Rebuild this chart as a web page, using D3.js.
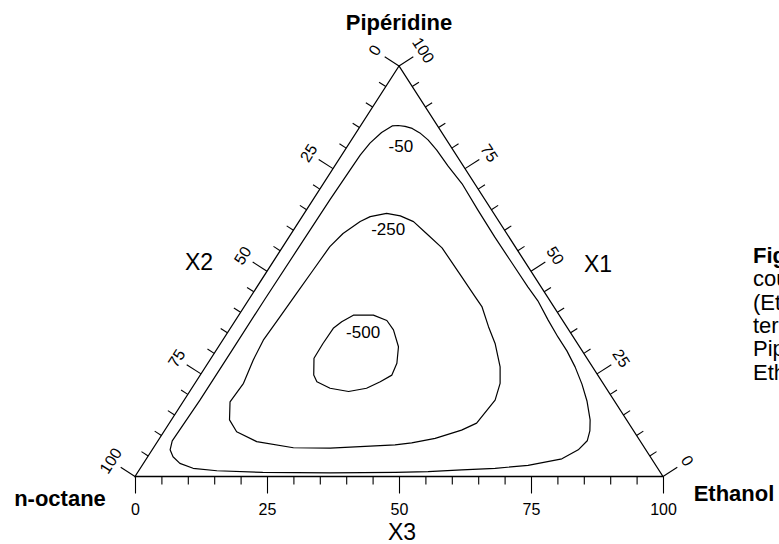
<!DOCTYPE html>
<html><head><meta charset="utf-8">
<script src="https://cdn.jsdelivr.net/npm/d3@7"></script>
<style>
html,body{margin:0;padding:0;background:#fff;overflow:hidden}
svg{display:block;font-family:Arial,"Liberation Sans",Helvetica,sans-serif}
</style></head><body>
<svg id="chart" width="779" height="544"></svg>
<script>
// Ternary axes: X1 = Pipéridine (top), X2 = n-octane (bottom left), X3 = Ethanol (bottom right), in %
const tickValues = d3.range(0, 101, 5);
const labelValues = [0, 25, 50, 75, 100];
const vertexNames = ["Pipéridine", "n-octane", "Ethanol"];
const axisNames = ["X1", "X2", "X3"];

// Iso-lines, each point as [X1, X2, X3]
const contourLevels = [-50, -250, -500];
const contour50 = [
  [85.5, 7.4, 7.1], [85.3, 6.2, 8.5], [84.8, 5.1, 10.1], [83.7, 4.2, 12.1], [82.0, 3.5, 14.5],
  [79.5, 3.1, 17.4], [75.6, 2.9, 21.5], [71.3, 2.4, 26.3], [64.9, 2.6, 32.5], [58.3, 2.7, 39.0],
  [52.0, 2.6, 45.4], [46.2, 2.5, 51.3], [42.8, 2.3, 54.9], [38.1, 2.7, 59.2], [34.0, 2.9, 63.1],
  [30.6, 2.9, 66.5], [26.7, 3.3, 70.0], [22.5, 4.1, 73.4], [18.4, 5.2, 76.4], [13.8, 6.9, 79.3],
  [11.1, 8.3, 80.6], [8.7, 10.0, 81.3], [6.5, 12.8, 80.7], [4.3, 17.0, 78.7], [2.7, 24.2, 73.1],
  [2.0, 30.8, 67.2], [1.6, 37.3, 61.1], [1.2, 43.9, 54.9], [1.0, 50.2, 48.8], [0.9, 62.6, 36.5],
  [1.0, 75.3, 23.7], [1.4, 83.8, 14.8], [2.0, 88.0, 10.0], [3.2, 89.9, 6.9], [4.8, 90.4, 4.8],
  [6.5, 90.1, 3.4], [8.7, 88.6, 2.7], [18.6, 78.4, 3.0], [30.8, 66.2, 3.0], [43.0, 54.0, 3.0],
  [55.2, 41.7, 3.1], [67.4, 29.4, 3.2], [74.7, 21.9, 3.4], [78.3, 18.2, 3.5], [81.2, 14.9, 3.9],
  [83.8, 11.4, 4.8], [85.4, 8.6, 6.0]
];
const contour250 = [
  [64.1, 20.3, 15.6], [63.5, 18.0, 18.5], [62.1, 16.2, 21.7], [59.2, 15.2, 25.6], [55.7, 14.0, 30.3],
  [48.7, 13.8, 37.5], [43.8, 13.7, 42.5], [41.4, 13.6, 45.0], [36.5, 14.8, 48.7], [32.4, 15.6, 52.0],
  [26.7, 17.5, 55.8], [22.7, 19.5, 57.8], [18.6, 22.5, 58.9], [13.0, 28.8, 58.2], [11.3, 32.5, 56.2],
  [9.3, 38.5, 52.2], [8.2, 43.5, 48.3], [7.7, 46.9, 45.4], [6.9, 59.6, 33.5], [7.0, 66.5, 26.5],
  [8.5, 72.7, 18.8], [10.9, 75.3, 13.8], [13.8, 75.2, 11.0], [18.2, 72.9, 8.9], [22.7, 68.1, 9.2],
  [28.4, 63.4, 8.2], [33.2, 59.1, 7.7], [38.9, 53.1, 8.0], [44.6, 47.1, 8.3], [50.3, 41.1, 8.6],
  [56.0, 35.1, 8.9], [59.2, 31.0, 9.8], [62.1, 26.3, 11.6], [63.3, 23.8, 12.9]
];
const contour500 = [
  [36.1, 44.4, 19.5], [37.7, 42.0, 20.3], [39.3, 39.0, 21.7], [39.3, 35.2, 25.5], [38.0, 33.3, 28.7],
  [35.7, 33.2, 31.1], [31.6, 34.3, 34.1], [27.6, 36.6, 35.8], [24.7, 39.0, 36.3], [23.1, 42.0, 34.9],
  [21.5, 45.4, 33.1], [20.7, 49.2, 30.1], [21.5, 52.3, 26.2], [23.1, 54.0, 22.9], [24.7, 53.8, 21.5],
  [28.8, 51.7, 19.5], [32.4, 48.2, 19.4]
];
// Composition where each level value is written
const levelLabelAt = [[80.5, 9.4, 10.1], [60.3, 21.9, 17.8], [35.2, 39.2, 25.6]];

const captionLines = ["Figure 3 :", "courbes d'iso-valeurs", "(Ethanol + n-octane)", "ternaire", "Pipéridine", "Ethanol"];

const svg = d3.select("#chart");
const W = 779, H = 544;
svg.append("rect").attr("width", W).attr("height", H).attr("fill", "#fff");

// Scales: horizontal position along the base, vertical position by X1
const xs = d3.scaleLinear().domain([0, 100]).range([135, 663]);
const ys = d3.scaleLinear().domain([0, 100]).range([476.5, 66]);
const proj = ([a, b, c]) => {
  const s = a + b + c;
  return [xs((c + a / 2) * 100 / s), ys(a * 100 / s)];
};

const vTop = proj([100, 0, 0]), vLeft = proj([0, 100, 0]), vRight = proj([0, 0, 100]);

// unit outward normals of the two slanted sides
function unit(v) { const l = Math.hypot(v[0], v[1]); return [v[0] / l, v[1] / l]; }
const leftDir = unit([vTop[0] - vLeft[0], vTop[1] - vLeft[1]]);
const rightDir = unit([vRight[0] - vTop[0], vRight[1] - vTop[1]]);
const nLeft = [leftDir[1], -leftDir[0]];
const nRight = [rightDir[1], -rightDir[0]];
const angLeft = Math.atan2(leftDir[1], leftDir[0]) * 180 / Math.PI;
const angRight = Math.atan2(rightDir[1], rightDir[0]) * 180 / Math.PI;

const longTick = 17, shortTick = 8, labelOff = 29;
const g = svg.append("g");

// Triangle
g.append("path")
  .attr("d", d3.line()([vTop, vLeft, vRight]) + "Z")
  .attr("fill", "none").attr("stroke", "#000").attr("stroke-width", 1.3)
  .attr("stroke-linejoin", "miter");

// Base axis (X3)
const baseAxis = d3.axisBottom(xs).tickValues(tickValues).tickSizeOuter(0)
  .tickSize(shortTick).tickPadding(0)
  .tickFormat(d => labelValues.includes(d) ? d : "");
const ga = g.append("g").attr("transform", `translate(0,${vLeft[1]})`).call(baseAxis);
ga.select(".domain").remove();
ga.selectAll(".tick line").attr("stroke", "#000").attr("stroke-width", 1.1)
  .attr("y2", d => labelValues.includes(d) ? longTick : shortTick);
ga.selectAll(".tick text").attr("fill", "#000").attr("font-size", 16)
  .attr("font-family", "Arial, 'Liberation Sans', sans-serif")
  .attr("y", 33).attr("dy", "0.35em");

// Slanted axes
function sideAxis(pointOf, n, ang) {
  const ax = g.append("g");
  tickValues.forEach(v => {
    const p = pointOf(v);
    const len = labelValues.includes(v) ? longTick : shortTick;
    ax.append("line")
      .attr("x1", p[0]).attr("y1", p[1])
      .attr("x2", p[0] + n[0] * len).attr("y2", p[1] + n[1] * len)
      .attr("stroke", "#000").attr("stroke-width", 1.1);
    if (labelValues.includes(v)) {
      const q = [p[0] + n[0] * labelOff, p[1] + n[1] * labelOff];
      ax.append("text")
        .attr("transform", `translate(${q[0]},${q[1]}) rotate(${ang})`)
        .attr("text-anchor", "middle").attr("dy", "0.35em")
        .attr("font-size", 16).text(v);
    }
  });
}
// X2 on the left side: 0 at the top, 100 at n-octane
sideAxis(v => proj([100 - v, v, 0]), nLeft, angLeft);
// X1 on the right side: 100 at the top, 0 at Ethanol
sideAxis(v => proj([v, 0, 100 - v]), nRight, angRight);

// Axis titles
g.append("text").attr("x", 199).attr("y", 262).attr("dy", "0.35em").attr("text-anchor", "middle")
  .attr("font-size", 23).text(axisNames[1]);
g.append("text").attr("x", 598).attr("y", 264).attr("dy", "0.35em").attr("text-anchor", "middle")
  .attr("font-size", 23).text(axisNames[0]);
g.append("text").attr("x", 402).attr("y", 532).attr("dy", "0.35em").attr("text-anchor", "middle")
  .attr("font-size", 23).text(axisNames[2]);

// Vertex names
g.append("text").attr("x", vTop[0]).attr("y", 30).attr("text-anchor", "middle")
  .attr("font-size", 22).attr("font-weight", "bold").text(vertexNames[0]);
g.append("text").attr("x", 60).attr("y", 506).attr("text-anchor", "middle")
  .attr("font-size", 22).attr("font-weight", "bold").text(vertexNames[1]);
g.append("text").attr("x", 734).attr("y", 501).attr("text-anchor", "middle")
  .attr("font-size", 22).attr("font-weight", "bold").text(vertexNames[2]);

// Iso-lines
const line = d3.line().x(d => proj(d)[0]).y(d => proj(d)[1]).curve(d3.curveLinearClosed);
[contour50, contour250, contour500].forEach(c => {
  g.append("path").attr("d", line(c)).attr("fill", "none")
    .attr("stroke", "#000").attr("stroke-width", 1.2).attr("stroke-linejoin", "round");
});
contourLevels.forEach((lv, i) => {
  const p = proj(levelLabelAt[i]);
  g.append("text").attr("x", p[0]).attr("y", p[1]).attr("dy", "0.35em")
    .attr("text-anchor", "middle").attr("font-size", 17).text(lv);
});

// Caption beside the diagram
const cap = svg.append("g").attr("font-size", 22);
captionLines.forEach((t, i) => {
  cap.append("text").attr("x", 753).attr("y", 263 + i * 23.3)
    .attr("font-weight", i === 0 ? "bold" : "normal").text(t);
});
</script>
</body></html>
